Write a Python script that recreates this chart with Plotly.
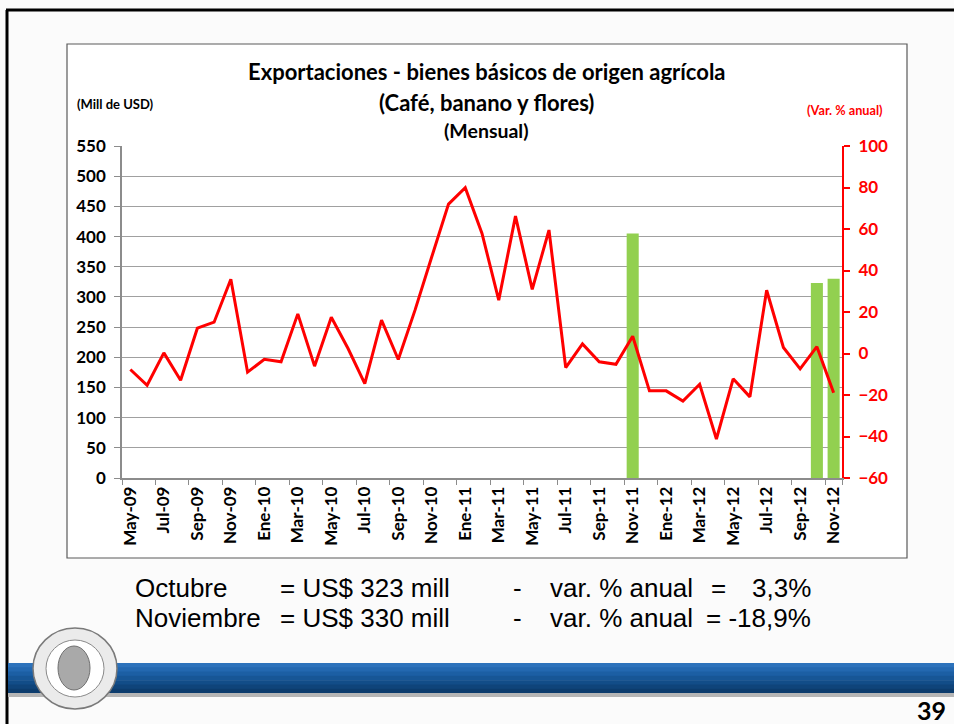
import plotly.graph_objects as go

months = ["May-09","Jun-09","Jul-09","Ago-09","Sep-09","Oct-09","Nov-09","Dic-09",
          "Ene-10","Feb-10","Mar-10","Abr-10","May-10","Jun-10","Jul-10","Ago-10","Sep-10","Oct-10","Nov-10","Dic-10",
          "Ene-11","Feb-11","Mar-11","Abr-11","May-11","Jun-11","Jul-11","Ago-11","Sep-11","Oct-11","Nov-11","Dic-11",
          "Ene-12","Feb-12","Mar-12","Abr-12","May-12","Jun-12","Jul-12","Ago-12","Sep-12","Oct-12","Nov-12"]

var_anual = [-7.7, -15.3, 0.3, -12.9, 12.2, 15.1, 35.8, -9.0, -2.8, -4.0,
             19.1, -6.1, 17.5, 2.4, -14.5, 16.1, -2.9, 20.9, 46.6, 72.0,
             79.9, 57.9, 25.7, 66.2, 30.9, 59.5, -6.8, 4.6, -4.0, -5.2,
             8.3, -18.0, -18.0, -22.9, -14.8, -41.2, -12.2, -20.9, 30.5, 2.9,
             -7.4, 3.3, -18.9]

bar_months = ["Nov-11", "Oct-12", "Nov-12"]
bar_values = [405, 323, 330]

tick_labels = months[::2]
left_ticks = list(range(0, 551, 50))
right_ticks = list(range(-60, 101, 20))

W, H = 954, 724
L, R, T, B = 122, 112, 146, 246
PW, PH = W - L - R, H - T - B

def px(x):
    return (x - L) / PW

def py(y):
    return (H - B - y) / PH

FONT = "Lato, 'Open Sans', sans-serif"
NARROW = "'Liberation Sans', Arial, sans-serif"
GRAY = "#8c8c8c"

fig = go.Figure()
fig.add_trace(go.Bar(x=bar_months, y=bar_values, marker_color="#92d050",
                     marker_line_width=0, width=0.72, yaxis="y", hoverinfo="skip"))
fig.add_trace(go.Scatter(x=months, y=var_anual, mode="lines",
                         line=dict(color="#ff0000", width=3), yaxis="y2"))

shapes = []
# slide frame lines
shapes.append(dict(type="line", xref="paper", yref="paper", x0=px(6), x1=px(954), y0=py(10), y1=py(10),
                   line=dict(color="#000000", width=3), layer="below"))
shapes.append(dict(type="line", xref="paper", yref="paper", x0=px(7), x1=px(7), y0=py(10), y1=py(724),
                   line=dict(color="#000000", width=3), layer="below"))
# chart box
shapes.append(dict(type="rect", xref="paper", yref="paper", x0=px(67), x1=px(907), y0=py(44), y1=py(558),
                   fillcolor="#ffffff", line=dict(color="#5a5a5a", width=1.2), layer="below"))
# blue band with gradient
band_cols = ["#2c72bb", "#2368b0", "#1c5fa4", "#175696", "#124d88", "#0f447a", "#0c3c6d"]
y0b = 663
step = 30 / len(band_cols)
for i, c in enumerate(band_cols):
    shapes.append(dict(type="rect", xref="paper", yref="paper", x0=px(8), x1=px(954),
                       y0=py(y0b + i * step), y1=py(y0b + (i + 1) * step + 0.6),
                       fillcolor=c, line=dict(width=0), layer="below"))
shapes.append(dict(type="rect", xref="paper", yref="paper", x0=px(8), x1=px(954), y0=py(693), y1=py(697),
                   fillcolor="#b5b5b5", line=dict(width=0), layer="below"))
# logo
shapes.append(dict(type="circle", xref="paper", yref="paper", x0=px(33), x1=px(117), y0=py(628), y1=py(709),
                   fillcolor="#ebebeb", line=dict(color="#7a7a7a", width=1.5), layer="above"))
shapes.append(dict(type="circle", xref="paper", yref="paper", x0=px(46), x1=px(104), y0=py(640), y1=py(697),
                   fillcolor="#ffffff", line=dict(color="#8a8a8a", width=1), layer="above"))
shapes.append(dict(type="circle", xref="paper", yref="paper", x0=px(58), x1=px(90), y0=py(646), y1=py(690),
                   fillcolor="#a9a9a9", line=dict(color="#6f6f6f", width=1), layer="above"))

def ann(text, x, y, size, color="#000000", anchor="left", family=FONT, bold=False):
    t = f"<b>{text}</b>" if bold else text
    return dict(text=t, xref="paper", yref="paper", x=px(x), y=py(y), xanchor=anchor, yanchor="middle",
                showarrow=False, font=dict(family=family, size=size, color=color))

BS = 26
annotations = [
    ann("Exportaciones - bienes básicos de origen agrícola", 487, 72, 22, anchor="center", bold=True),
    ann("(Café, banano y flores)", 486, 103, 22, anchor="center", bold=True),
    ann("(Mensual)", 486, 130, 19.5, anchor="center", bold=True),
    ann("(Mill de USD)", 75, 104, 13, bold=True),
    ann("(Var. % anual)", 885, 110, 12.7, color="#ff0000", anchor="right", bold=True),
    ann("Octubre", 133, 588, BS, family=NARROW),
    ann("= US$ 323 mill", 452, 588, BS, anchor="right", family=NARROW),
    ann("-", 517, 588, BS, anchor="center", family=NARROW),
    ann("var. % anual", 548, 588, BS, family=NARROW),
    ann("=", 709, 588, BS, family=NARROW),
    ann("3,3%", 813, 588, BS, anchor="right", family=NARROW),
    ann("Noviembre", 133, 618, BS, family=NARROW),
    ann("= US$ 330 mill", 452, 618, BS, anchor="right", family=NARROW),
    ann("-", 517, 618, BS, anchor="center", family=NARROW),
    ann("var. % anual", 548, 618, BS, family=NARROW),
    ann("= -18,9%", 813, 618, BS, anchor="right", family=NARROW),
    ann("39", 948, 710, 25, anchor="right", bold=True),
]

fig.update_layout(
    width=W, height=H,
    margin=dict(l=L, r=R, t=T, b=B, pad=0),
    paper_bgcolor="#fbfbfb", plot_bgcolor="rgba(0,0,0,0)",
    showlegend=False, barmode="overlay",
    shapes=shapes, annotations=annotations,
    xaxis=dict(type="category", categoryorder="array", categoryarray=months,
               range=[-0.5, len(months) - 0.5],
               tickmode="array", tickvals=tick_labels, ticktext=tick_labels,
               tickson="boundaries", ticks="outside", ticklen=5, tickcolor=GRAY, tickwidth=1,
               tickangle=-90, tickfont=dict(family=FONT, size=17, color="#000000", weight="bold"),
               showgrid=False, showline=True, linecolor=GRAY, linewidth=1.5, zeroline=False),
    yaxis=dict(range=[0, 550], tickvals=left_ticks, ticks="outside", ticklen=6, tickcolor=GRAY,
               tickfont=dict(family=FONT, size=17, color="#000000", weight="bold"),
               ticklabelstandoff=5,
               showgrid=True, gridcolor="#a0a0a0", gridwidth=1,
               showline=True, linecolor=GRAY, linewidth=1.5, zeroline=False),
    yaxis2=dict(range=[-60, 100], tickvals=right_ticks, overlaying="y", side="right",
                ticks="outside", ticklen=6, tickcolor="#ff0000", tickwidth=1.5,
                tickfont=dict(family=FONT, size=17, color="#ff0000", weight="bold"),
                ticklabelstandoff=5,
                showgrid=False, showline=True, linecolor="#ff0000", linewidth=2, zeroline=False),
)

fig.write_html("out.html", config={"displayModeBar": False},
               post_script="document.body.style.margin='0';document.body.style.overflow='hidden';")
